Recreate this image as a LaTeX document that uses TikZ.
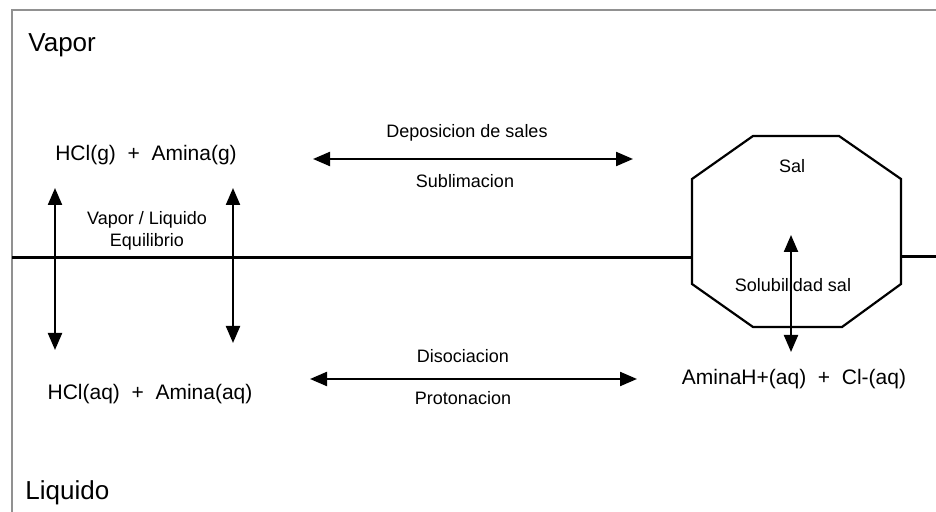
\documentclass[tikz,border=0pt]{standalone}
\usepackage{fontspec}
\setmainfont{Liberation Sans}
\usetikzlibrary{arrows.meta}

\begin{document}
\begin{tikzpicture}[x=0.5pt, y=-0.5pt,
        phase/.style    = {font=\fontsize{13}{15}\selectfont, anchor=base west, inner sep=0pt},
        species/.style  = {font=\fontsize{10.5}{12}\selectfont, anchor=base, inner sep=0pt},
        note/.style     = {font=\fontsize{9}{10}\selectfont, anchor=base, inner sep=0pt, align=center},
        frame/.style    = {draw=black!43, line width=1pt},
        interface/.style= {draw, line width=1.5pt},
        crystal/.style  = {draw, line width=1.1pt, line join=miter},
        reaction/.style = {<->, draw, line width=1.1pt},
        >={Triangle[length=8.5pt, width=7pt]}]

    \useasboundingbox (0,0) rectangle (936,512);

    % open frame, only top and left edges
    \draw[frame] (936,10) -- (12,10) -- (12,512);

    % phase names
    \node[phase] (vapor)   at (28,52)  {Vapor};
    \node[phase] (liquido) at (25,500) {Liquido};

    % species on both sides of the interface
    \node[species] (gas) at (146,161) {HCl(g)\ \ +\ \ Amina(g)};
    \node[species] (aq)  at (150,400) {HCl(aq)\ \ +\ \ Amina(aq)};
    \node[species] (ion) at (794,385) {AminaH+(aq)\ \ +\ \ Cl-(aq)};

    % salt crystal, an octagon sitting on the interface
    \foreach \i/\x/\y in {1/753/136, 2/839/136, 3/901/179, 4/901/284,
                          5/842/327, 6/753/327, 7/692/284, 8/692/179}
        \coordinate (o\i) at (\x,\y);
    \draw[crystal] (o1) -- (o2) -- (o3) -- (o4) -- (o5) -- (o6) -- (o7) -- (o8) -- cycle;
    \node[note] (sal) at (792,173) {Sal};

    % vapor / liquid interface
    \coordinate (ifl) at (12,258);
    \coordinate (ifr) at (936,257);
    \draw[interface] (ifl) -- (o7 |- ifl);
    \draw[interface] (o4 |- ifr) -- (ifr);

    % vertical equilibria
    \coordinate (eqa) at (55,188);  \coordinate (eqb) at (55,350);
    \coordinate (eqc) at (233,188); \coordinate (eqd) at (233,343);
    \draw[reaction] (eqa) -- (eqb);
    \draw[reaction] (eqc) -- (eqd);
    \node[note] (vle) at (147,247) {Vapor / Liquido\\[1pt]Equilibrio};

    \coordinate (sola) at (791,235); \coordinate (solb) at (791,352);
    \draw[reaction] (sola) -- (solb);
    \node[note] (sol) at (793,292) {Solubilidad sal};

    % horizontal equilibria
    \coordinate (dep1) at (313,159); \coordinate (dep2) at (633,159);
    \draw[reaction] (dep1) -- (dep2);
    \node[note] (dep) at (467,138) {Deposicion de sales};
    \node[note] (sub) at (465,188) {Sublimacion};

    \coordinate (dis1) at (310,379); \coordinate (dis2) at (637,379);
    \draw[reaction] (dis1) -- (dis2);
    \node[note] (dis) at (463,363) {Disociacion};
    \node[note] (pro) at (463,405) {Protonacion};

\end{tikzpicture}
\end{document}
